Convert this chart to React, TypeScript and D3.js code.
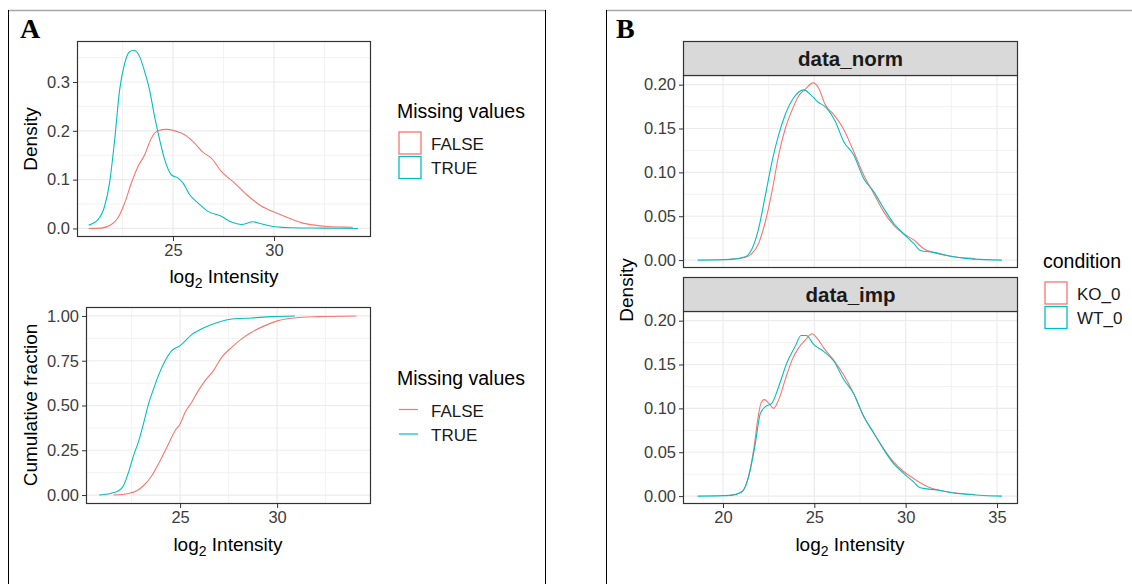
import { useRef, useEffect } from 'react';
import * as d3 from 'd3';

type Pt = [number, number];

// Panel A, density of log2 intensity split by missing values
const densFalse: Pt[] = [
  [20.83, 0], [21.45, 0.0007], [21.95, 0.008], [22.28, 0.022], [22.61, 0.052], [22.94, 0.093],
  [23.27, 0.127], [23.6, 0.151], [23.93, 0.185], [24.26, 0.2], [24.67, 0.203], [25.08, 0.2],
  [25.58, 0.192], [25.99, 0.178], [26.49, 0.156], [26.9, 0.144], [27.39, 0.117], [28.05, 0.093],
  [28.71, 0.067], [29.37, 0.046], [30.03, 0.033], [30.69, 0.022], [31.35, 0.012], [32.0, 0.0068],
  [32.67, 0.004], [33.5, 0.0027], [33.9, 0.0025],
];
const densTrue: Pt[] = [
  [20.83, 0.0068], [21.29, 0.018], [21.62, 0.046], [21.86, 0.093], [22.11, 0.18], [22.36, 0.284],
  [22.61, 0.338], [22.85, 0.362], [23.07, 0.365], [23.35, 0.352], [23.6, 0.321], [23.84, 0.284],
  [24.09, 0.229], [24.34, 0.182], [24.59, 0.141], [24.92, 0.11], [25.25, 0.103], [25.5, 0.093],
  [25.83, 0.069], [26.24, 0.052], [26.73, 0.035], [27.39, 0.025], [27.89, 0.013], [28.38, 0.008],
  [28.96, 0.0136], [29.37, 0.0095], [30.03, 0.0034], [30.86, 0.0014], [32.5, 0.0007], [34.16, 0],
];

// Panel A, cumulative fraction
const cumFalse: Pt[] = [
  [21.57, 0], [22.34, 0.009], [22.77, 0.024], [23.11, 0.052], [23.54, 0.108], [23.97, 0.192],
  [24.4, 0.285], [24.74, 0.359], [25.0, 0.397], [25.26, 0.462], [25.6, 0.518], [25.94, 0.583],
  [26.29, 0.639], [26.72, 0.695], [27.14, 0.769], [27.66, 0.825], [28.17, 0.872], [28.69, 0.909],
  [29.37, 0.946], [30.06, 0.974], [30.92, 0.989], [32.12, 0.996], [34.09, 1],
];
const cumTrue: Pt[] = [
  [20.83, 0], [21.4, 0.009], [21.83, 0.024], [22.08, 0.052], [22.34, 0.127], [22.6, 0.22],
  [22.86, 0.3], [23.11, 0.397], [23.37, 0.508], [23.63, 0.592], [23.88, 0.667], [24.23, 0.75],
  [24.57, 0.806], [25.0, 0.834], [25.6, 0.896], [26.29, 0.937], [26.97, 0.965], [27.66, 0.983],
  [28.69, 0.989], [29.72, 0.996], [30.92, 1],
];

// Panel B, facet data_norm
const normKO: Pt[] = [
  [20.36, 0.0008], [21.13, 0.0027], [21.59, 0.0076], [21.95, 0.019], [22.32, 0.044], [22.68, 0.078],
  [23.05, 0.12], [23.41, 0.15], [23.78, 0.171], [24.14, 0.187], [24.51, 0.195], [24.93, 0.202],
  [25.24, 0.196], [25.6, 0.177], [26.06, 0.166], [26.61, 0.149], [27.15, 0.124], [27.7, 0.097],
  [28.25, 0.076], [28.8, 0.055], [29.34, 0.04], [29.89, 0.03], [30.44, 0.023], [30.99, 0.013],
  [31.72, 0.0076], [32.63, 0.0038], [33.8, 0.0019],
];
const normWT: Pt[] = [
  [18.61, 0], [20.4, 0.0008], [21.22, 0.0038], [21.59, 0.013], [21.95, 0.036], [22.32, 0.074],
  [22.68, 0.112], [23.05, 0.143], [23.41, 0.166], [23.87, 0.185], [24.42, 0.194], [24.78, 0.189],
  [25.15, 0.181], [25.69, 0.173], [26.15, 0.158], [26.61, 0.135], [27.15, 0.12], [27.7, 0.093],
  [28.25, 0.078], [28.8, 0.059], [29.34, 0.042], [29.89, 0.03], [30.44, 0.019], [30.8, 0.011],
  [31.53, 0.0088], [32.63, 0.0038], [33.72, 0.0011], [35.27, 0],
];

// Panel B, facet data_imp
const impKO: Pt[] = [
  [20.36, 0.0008], [20.95, 0.0038], [21.31, 0.016], [21.68, 0.053], [21.9, 0.087], [22.08, 0.106],
  [22.26, 0.11], [22.5, 0.106], [22.77, 0.1], [23.05, 0.11], [23.41, 0.133], [23.78, 0.155],
  [24.14, 0.169], [24.51, 0.178], [24.87, 0.185], [25.15, 0.18], [25.51, 0.169], [26.06, 0.155],
  [26.61, 0.138], [27.15, 0.117], [27.7, 0.091], [28.25, 0.072], [28.8, 0.054], [29.34, 0.039],
  [29.89, 0.028], [30.44, 0.02], [31.17, 0.011], [32.26, 0.005], [33.8, 0.0019],
];
const impWT: Pt[] = [
  [18.61, 0], [20.4, 0.0008], [21.04, 0.005], [21.4, 0.022], [21.77, 0.06], [22.04, 0.094],
  [22.32, 0.102], [22.68, 0.106], [23.05, 0.125], [23.5, 0.152], [23.96, 0.171], [24.27, 0.183],
  [24.56, 0.183], [24.96, 0.173], [25.51, 0.165], [26.06, 0.154], [26.61, 0.133], [27.15, 0.117],
  [27.7, 0.091], [28.25, 0.072], [28.8, 0.053], [29.34, 0.037], [29.89, 0.026], [30.44, 0.016],
  [30.8, 0.0095], [31.72, 0.0069], [32.81, 0.003], [35.27, 0],
];

const missingLevels = ['FALSE', 'TRUE'];
const conditionLevels = ['KO_0', 'WT_0'];
const facetNames = ['data_norm', 'data_imp'];

const xTicksA = [25, 30];
const xMinorA = [22.5, 27.5, 32.5];
const yTicksDens = [0, 0.1, 0.2, 0.3];
const yMinorDens = [0.05, 0.15, 0.25, 0.35];
const yTicksCum = [0, 0.25, 0.5, 0.75, 1];
const yMinorCum = [0.125, 0.375, 0.625, 0.875];
const xTicksB = [20, 25, 30, 35];
const xMinorB = [22.5, 27.5, 32.5];
const yTicksB = [0, 0.05, 0.1, 0.15, 0.2];
const yMinorB = [0.025, 0.075, 0.125, 0.175];

const RED = '#F8766D';
const TEAL = '#00BFC4';
const FONT = '"Liberation Sans", Arial, sans-serif';

const App = () => {
  const svgRef = useRef<SVGSVGElement>(null);

  useEffect(() => {
    const svg = d3.select(svgRef.current);
    svg.selectAll('*').remove();
    svg.style('font-family', FONT);

    const colorMissing = d3.scaleOrdinal<string, string>().domain(missingLevels).range([RED, TEAL]);
    const colorCond = d3.scaleOrdinal<string, string>().domain(conditionLevels).range([RED, TEAL]);

    // outer frames
    const frame = svg.append('g');
    frame.append('line').attr('x1', 8).attr('x2', 546).attr('y1', 10.5).attr('y2', 10.5).attr('stroke', '#a8a8a8').attr('stroke-width', 1.5);
    frame.append('line').attr('x1', 606).attr('x2', 1132).attr('y1', 10.5).attr('y2', 10.5).attr('stroke', '#a8a8a8').attr('stroke-width', 1.5);
    [8.5, 545.5, 606.5].forEach(x => {
      frame.append('line').attr('x1', x).attr('x2', x).attr('y1', 10).attr('y2', 584).attr('stroke', '#000').attr('stroke-width', 1);
    });

    svg.append('text').attr('x', 20).attr('y', 38).text('A')
      .attr('font-family', '"Liberation Serif", "Times New Roman", serif').attr('font-weight', 700).attr('font-size', 28);
    svg.append('text').attr('x', 616).attr('y', 38).text('B')
      .attr('font-family', '"Liberation Serif", "Times New Roman", serif').attr('font-weight', 700).attr('font-size', 28);

    const line = (x: d3.ScaleLinear<number, number>, y: d3.ScaleLinear<number, number>) =>
      d3.line<Pt>().x(d => x(d[0])).y(d => y(d[1])).curve(d3.curveMonotoneX);

    const drawPanel = (opts: {
      x: d3.ScaleLinear<number, number>, y: d3.ScaleLinear<number, number>,
      xMajor: number[], xMinor: number[], yMajor: number[], yMinor: number[],
      yFmt: (v: number) => string, showX: boolean,
      series: { pts: Pt[], color: string }[],
    }) => {
      const { x, y } = opts;
      const [x0, x1] = x.range();
      const [y0, y1] = y.range();
      const g = svg.append('g');
      g.append('rect').attr('x', x0).attr('y', y1).attr('width', x1 - x0).attr('height', y0 - y1).attr('fill', '#fff');
      g.selectAll('line.mnx').data(opts.xMinor).join('line')
        .attr('x1', d => x(d)).attr('x2', d => x(d)).attr('y1', y1).attr('y2', y0)
        .attr('stroke', '#f2f2f2').attr('stroke-width', 1);
      g.selectAll('line.mny').data(opts.yMinor).join('line')
        .attr('x1', x0).attr('x2', x1).attr('y1', d => y(d)).attr('y2', d => y(d))
        .attr('stroke', '#f2f2f2').attr('stroke-width', 1);
      g.selectAll('line.mjx').data(opts.xMajor).join('line')
        .attr('x1', d => x(d)).attr('x2', d => x(d)).attr('y1', y1).attr('y2', y0)
        .attr('stroke', '#ebebeb').attr('stroke-width', 1.2);
      g.selectAll('line.mjy').data(opts.yMajor).join('line')
        .attr('x1', x0).attr('x2', x1).attr('y1', d => y(d)).attr('y2', d => y(d))
        .attr('stroke', '#ebebeb').attr('stroke-width', 1.2);

      opts.series.forEach(s => {
        g.append('path').datum(s.pts).attr('d', line(x, y)).attr('fill', 'none')
          .attr('stroke', s.color).attr('stroke-width', 1.1);
      });

      g.append('rect').attr('x', x0 + 0.5).attr('y', y1 + 0.5).attr('width', x1 - x0 - 1).attr('height', y0 - y1 - 1)
        .attr('fill', 'none').attr('stroke', '#333').attr('stroke-width', 1.2);

      const yAxis = g.append('g').attr('transform', `translate(${x0},0)`)
        .call(d3.axisLeft(y).tickValues(opts.yMajor).tickFormat(v => opts.yFmt(+v)).tickSize(4).tickPadding(3));
      yAxis.select('.domain').remove();
      yAxis.selectAll('.tick line').attr('stroke', '#333');
      yAxis.selectAll('.tick text').attr('fill', '#3d3d3d').attr('font-size', 16.5).attr('font-family', FONT);

      if (opts.showX) {
        const xAxis = g.append('g').attr('transform', `translate(0,${y0})`)
          .call(d3.axisBottom(x).tickValues(opts.xMajor).tickFormat(d3.format('d')).tickSize(4).tickPadding(3));
        xAxis.select('.domain').remove();
        xAxis.selectAll('.tick line').attr('stroke', '#333');
        xAxis.selectAll('.tick text').attr('fill', '#3d3d3d').attr('font-size', 16.5).attr('font-family', FONT);
      }
      return g;
    };

    const xTitle = (cx: number, cy: number) => {
      const t = svg.append('text').attr('x', cx).attr('y', cy).attr('text-anchor', 'middle')
        .attr('font-size', 19).attr('fill', '#000');
      t.append('tspan').text('log');
      t.append('tspan').text('2').attr('font-size', 14).attr('dy', 5);
      t.append('tspan').text(' Intensity').attr('dy', -5);
    };
    const yTitle = (cx: number, cy: number, label: string) => {
      svg.append('text').attr('transform', `translate(${cx},${cy}) rotate(-90)`).attr('text-anchor', 'middle')
        .attr('font-size', 19).attr('fill', '#000').text(label);
    };

    // Panel A top: density
    const xA1 = d3.scaleLinear().domain([20.25, 34.8]).range([77, 371]);
    const yA1 = d3.scaleLinear().domain([-0.0175, 0.384]).range([237, 41]);
    drawPanel({
      x: xA1, y: yA1, xMajor: xTicksA, xMinor: xMinorA, yMajor: yTicksDens, yMinor: yMinorDens,
      yFmt: d3.format('.1f'), showX: true,
      series: [{ pts: densFalse, color: colorMissing('FALSE') }, { pts: densTrue, color: colorMissing('TRUE') }],
    });
    xTitle(224, 283);
    yTitle(37, 139, 'Density');

    // Panel A bottom: cumulative
    const xA2 = d3.scaleLinear().domain([20.15, 34.84]).range([86, 371]);
    const yA2 = d3.scaleLinear().domain([-0.05, 1.05]).range([504, 307]);
    drawPanel({
      x: xA2, y: yA2, xMajor: xTicksA, xMinor: xMinorA, yMajor: yTicksCum, yMinor: yMinorCum,
      yFmt: d3.format('.2f'), showX: true,
      series: [{ pts: cumFalse, color: colorMissing('FALSE') }, { pts: cumTrue, color: colorMissing('TRUE') }],
    });
    xTitle(228, 551);
    yTitle(37, 405, 'Cumulative fraction');

    // legends panel A
    const legA1 = svg.append('g');
    legA1.append('text').attr('x', 397).attr('y', 118).attr('font-size', 19.5).text('Missing values');
    missingLevels.forEach((lv, i) => {
      legA1.append('rect').attr('x', 399).attr('y', 132 + i * 24.5).attr('width', 22).attr('height', 22)
        .attr('fill', '#fff').attr('stroke', colorMissing(lv)).attr('stroke-width', 1.3);
      legA1.append('text').attr('x', 431).attr('y', 149.5 + i * 24.5).attr('font-size', 17).attr('fill', '#1a1a1a').text(lv);
    });
    const legA2 = svg.append('g');
    legA2.append('text').attr('x', 397).attr('y', 385).attr('font-size', 19.5).text('Missing values');
    missingLevels.forEach((lv, i) => {
      legA2.append('line').attr('x1', 399).attr('x2', 418).attr('y1', 409.5 + i * 24.5).attr('y2', 409.5 + i * 24.5)
        .attr('stroke', colorMissing(lv)).attr('stroke-width', 1.2);
      legA2.append('text').attr('x', 431).attr('y', 416.5 + i * 24.5).attr('font-size', 17).attr('fill', '#1a1a1a').text(lv);
    });

    // Panel B facets
    const xB = d3.scaleLinear().domain([17.81, 36.15]).range([683, 1018]);
    const facets = [
      { name: facetNames[0], top: 41, ko: normKO, wt: normWT, showX: false },
      { name: facetNames[1], top: 277, ko: impKO, wt: impWT, showX: true },
    ];
    facets.forEach(f => {
      const stripH = 34;
      const panelTop = f.top + stripH;
      const panelBottom = f.showX ? 504 : 268;
      const yB = d3.scaleLinear().domain([-0.009, 0.211]).range([panelBottom, panelTop]);
      drawPanel({
        x: xB, y: yB, xMajor: xTicksB, xMinor: xMinorB, yMajor: yTicksB, yMinor: yMinorB,
        yFmt: d3.format('.2f'), showX: f.showX,
        series: [{ pts: f.ko, color: colorCond('KO_0') }, { pts: f.wt, color: colorCond('WT_0') }],
      });
      svg.append('rect').attr('x', 683.5).attr('y', f.top + 0.5).attr('width', 1018 - 683 - 1).attr('height', stripH)
        .attr('fill', '#d9d9d9').attr('stroke', '#333').attr('stroke-width', 1.2);
      svg.append('text').attr('x', (683 + 1018) / 2).attr('y', f.top + stripH / 2 + 7.5).attr('text-anchor', 'middle')
        .attr('font-size', 20.5).attr('font-weight', 700).attr('fill', '#1a1a1a').text(f.name);
    });
    xTitle(850, 551);
    yTitle(633, 290, 'Density');

    const legB = svg.append('g');
    legB.append('text').attr('x', 1043).attr('y', 268).attr('font-size', 19.5).text('condition');
    conditionLevels.forEach((lv, i) => {
      legB.append('rect').attr('x', 1045).attr('y', 282 + i * 24.5).attr('width', 22).attr('height', 22)
        .attr('fill', '#fff').attr('stroke', colorCond(lv)).attr('stroke-width', 1.3);
      legB.append('text').attr('x', 1077).attr('y', 299.5 + i * 24.5).attr('font-size', 17).attr('fill', '#1a1a1a').text(lv);
    });
  }, []);

  return (
    <svg ref={svgRef} width={1132} height={584}
      style={{ position: 'absolute', left: 0, top: 0, background: '#fff' }} />
  );
};

export default App;
